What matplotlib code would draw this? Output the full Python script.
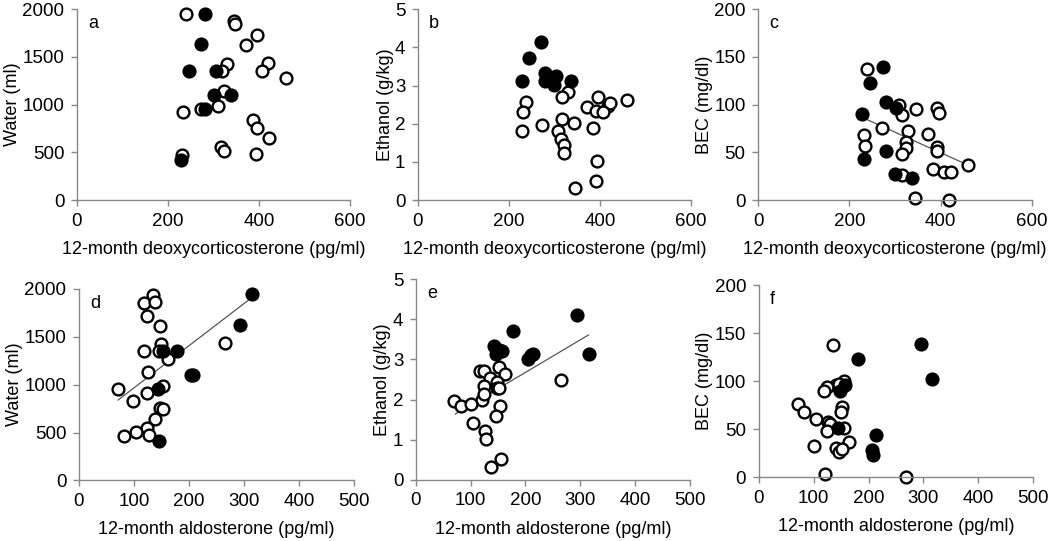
import matplotlib
matplotlib.use("Agg")
import matplotlib.pyplot as plt

plt.rcParams['font.family'] = ['Liberation Sans', 'DejaVu Sans']

# ---- data ----
# a: deoxycorticosterone vs water
a_open_x = [240, 345, 347, 396, 372, 330, 419, 319, 407, 460, 324, 310, 273, 233, 386, 395, 423, 316, 324, 394, 231]
a_open_y = [1951, 1875, 1850, 1731, 1627, 1428, 1441, 1351, 1354, 1277, 1145, 991, 953, 918, 838, 750, 646, 558, 510, 482, 475]
a_fill_x = [282, 272, 246, 305, 301, 339, 281, 228]
a_fill_y = [1955, 1633, 1354, 1354, 1106, 1106, 953, 415]

# b: deoxycorticosterone vs ethanol
b_open_x = [329, 317, 395, 459, 418, 422, 238, 371, 391, 406, 232, 316, 344, 272, 385, 229, 307, 314, 322, 322, 393, 391, 345]
b_open_y = [2.82, 2.71, 2.71, 2.63, 2.47, 2.55, 2.56, 2.43, 2.34, 2.32, 2.32, 2.13, 2.02, 1.97, 1.88, 1.82, 1.82, 1.60, 1.43, 1.23, 1.01, 0.51, 0.31]
b_fill_x = [271, 245, 279, 303, 228, 279, 300, 337]
b_fill_y = [4.13, 3.73, 3.34, 3.24, 3.12, 3.12, 3.02, 3.12]

# c: deoxycorticosterone vs BEC
c_open_x = [238, 309, 316, 346, 392, 395, 272, 328, 371, 231, 323, 324, 233, 392, 392, 316, 460, 384, 406, 423, 315, 344, 419]
c_open_y = [137, 99.5, 89.4, 95.3, 96.7, 90.8, 75.1, 72.7, 68.9, 67.8, 60.9, 54.3, 56.7, 56.0, 51.5, 48.3, 36.5, 32.3, 28.9, 29.2, 26.4, 2.4, 0.3]
c_fill_x = [273, 246, 280, 303, 228, 279, 231, 300, 338]
c_fill_y = [139, 122.8, 102.3, 96, 90.4, 51.5, 43.1, 27.5, 22.6]
c_fit_x = [228, 457]
c_fit_y = [86.6, 37.2]

# d: aldosterone vs water
d_open_x = [135, 118, 139, 124, 148, 150, 265, 118, 146, 162, 125, 153, 71, 123, 99, 147, 153, 139, 123, 104, 82, 127]
d_open_y = [1937, 1850, 1861, 1721, 1617, 1425, 1432, 1348, 1348, 1272, 1132, 986, 951, 909, 829, 760, 749, 645, 551, 505, 467, 470]
d_fill_x = [315, 293, 179, 153, 203, 208, 144, 146]
d_fill_y = [1944, 1624, 1348, 1348, 1105, 1105, 951, 415]
d_fit_x = [71, 312]
d_fit_y = [839, 1900]

# e: aldosterone vs ethanol
e_open_x = [151, 117, 125, 135, 163, 265, 148, 148, 124, 152, 70, 120, 124, 82, 100, 154, 146, 104, 126, 128, 155, 138]
e_open_y = [2.82, 2.71, 2.71, 2.55, 2.63, 2.48, 2.43, 2.30, 2.33, 2.30, 1.97, 2.00, 2.13, 1.83, 1.88, 1.83, 1.59, 1.43, 1.23, 1.02, 0.51, 0.32]
e_fill_x = [295, 178, 143, 151, 157, 146, 205, 210, 214, 316]
e_fill_y = [4.12, 3.72, 3.33, 3.23, 3.22, 3.13, 3.02, 3.10, 3.13, 3.13]
e_fit_x = [72, 315]
e_fit_y = [1.64, 3.61]

# f: aldosterone vs BEC
f_open_x = [136, 155, 140, 146, 124, 118, 72, 83, 151, 150, 104, 126, 130, 155, 124, 165, 100, 140, 146, 151, 120, 268]
f_open_y = [137.6, 100.5, 96, 97, 93.6, 89.8, 75.9, 67.6, 73.5, 68.3, 60.7, 57.2, 55.5, 51.6, 48.2, 36.4, 32.9, 30.8, 26.7, 29.5, 2.8, 0]
f_fill_x = [296, 181, 316, 157, 148, 145, 214, 206, 209]
f_fill_y = [138.6, 122.7, 102.3, 96, 90, 51.3, 44, 28, 22.9]

panels = [
    ('a', [0.0733, 0.6303, 0.260, 0.3525], a_open_x, a_open_y, a_fill_x, a_fill_y, None, None,
     (0, 600, 200), (0, 2000, 500), '12-month deoxycorticosterone (pg/ml)', 'Water (ml)'),
    ('b', [0.398, 0.6303, 0.260, 0.3525], b_open_x, b_open_y, b_fill_x, b_fill_y, None, None,
     (0, 600, 200), (0, 5, 1), '12-month deoxycorticosterone (pg/ml)', 'Ethanol (g/kg)'),
    ('c', [0.722, 0.6303, 0.261, 0.3525], c_open_x, c_open_y, c_fill_x, c_fill_y, c_fit_x, c_fit_y,
     (0, 600, 200), (0, 200, 50), '12-month deoxycorticosterone (pg/ml)', 'BEC (mg/dl)'),
    ('d', [0.0752, 0.112, 0.262, 0.354], d_open_x, d_open_y, d_fill_x, d_fill_y, d_fit_x, d_fit_y,
     (0, 500, 100), (0, 2000, 500), '12-month aldosterone (pg/ml)', 'Water (ml)'),
    ('e', [0.396, 0.1128, 0.261, 0.3712], e_open_x, e_open_y, e_fill_x, e_fill_y, e_fit_x, e_fit_y,
     (0, 500, 100), (0, 5, 1), '12-month aldosterone (pg/ml)', 'Ethanol (g/kg)'),
    ('f', [0.7226, 0.118, 0.2614, 0.355], f_open_x, f_open_y, f_fill_x, f_fill_y, None, None,
     (0, 500, 100), (0, 200, 50), '12-month aldosterone (pg/ml)', 'BEC (mg/dl)'),
]

fig = plt.figure(figsize=(10.5, 5.41), dpi=100)

for letter, rect, ox, oy, fx, fy, lx, ly, xr, yr, xl, yl in panels:
    ax = fig.add_axes(rect)
    if lx is not None:
        ax.plot(lx, ly, color='#555555', lw=0.9, zorder=1)
    ax.plot(ox, oy, 'o', ms=8.5, mfc='white', mec='black', mew=1.7, ls='none', zorder=2)
    ax.plot(fx, fy, 'o', ms=8.5, mfc='black', mec='black', mew=1.7, ls='none', zorder=3)
    ax.set_xlim(xr[0], xr[1])
    ax.set_ylim(yr[0], yr[1])
    ax.set_xticks(range(xr[0], xr[1] + 1, xr[2]))
    ax.set_yticks(range(yr[0], yr[1] + 1, yr[2]))
    for s in ['top', 'right']:
        ax.spines[s].set_visible(False)
    for s in ['left', 'bottom']:
        ax.spines[s].set_color('#888888')
        ax.spines[s].set_linewidth(1.0)
    ax.tick_params(length=4, width=1, color='#888888', labelsize=13.5, pad=5)
    ax.set_xlabel(xl, fontsize=13, labelpad=8)
    ax.set_ylabel(yl, fontsize=13, labelpad=1)
    ax.text(0.04, 0.97, letter, transform=ax.transAxes, fontsize=13, va='top', ha='left')
    for ln in ax.lines:
        ln.set_clip_on(False)

plt.savefig('out.png', dpi=100)
